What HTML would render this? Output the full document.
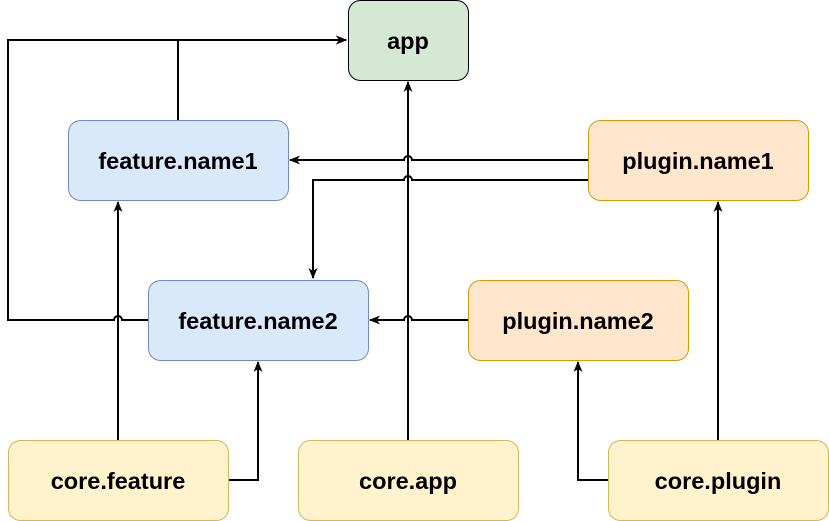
<!DOCTYPE html>
<html><head><meta charset="utf-8"><style>body{margin:0;background:#fff}svg{display:block}text{font-family:"Liberation Sans",sans-serif;font-weight:bold;font-size:23.5px;text-anchor:middle;dominant-baseline:central}</style></head><body>
<svg width="829" height="521" viewBox="0 0 829 521">
<defs><marker id="a" markerWidth="12" markerHeight="12" refX="10" refY="6" orient="auto" markerUnits="userSpaceOnUse"><path d="M0,1.5 L11,6 L0,10.5 L3,6 Z" fill="#000"/></marker></defs>
<g fill="none" stroke="#000" stroke-width="2">
<path d="M178,120 V40 H346" marker-end="url(#a)"/>
<path d="M148,320 H122 a4,4 0 0 0 -8,0 H8 V40 H346" marker-end="url(#a)"/>
<path d="M588,160 H412 a4,4 0 0 0 -8,0 H290" marker-end="url(#a)"/>
<path d="M588,180 H412 a4,4 0 0 0 -8,0 H313 V278" marker-end="url(#a)"/>
<path d="M468,320 H412 a4,4 0 0 0 -8,0 H370" marker-end="url(#a)"/>
<path d="M118,440 V202" marker-end="url(#a)"/>
<path d="M228,480 H258 V362" marker-end="url(#a)"/>
<path d="M408,440 V82" marker-end="url(#a)"/>
<path d="M608,480 H578 V362" marker-end="url(#a)"/>
<path d="M718,440 V202" marker-end="url(#a)"/>
</g>
<rect x="348.5" y="0.5" width="120" height="80" rx="12" fill="#d5e8d4" stroke="#000"/>
<text x="408" y="41">app</text>
<rect x="68.5" y="120.5" width="220" height="80" rx="12" fill="#dae8fc" stroke="#6c8ebf"/>
<text x="178" y="161">feature.name1</text>
<rect x="588.5" y="120.5" width="220" height="80" rx="12" fill="#ffe6cc" stroke="#d79b00"/>
<text x="698" y="161">plugin.name1</text>
<rect x="148.5" y="280.5" width="220" height="80" rx="12" fill="#dae8fc" stroke="#6c8ebf"/>
<text x="258" y="321">feature.name2</text>
<rect x="468.5" y="280.5" width="220" height="80" rx="12" fill="#ffe6cc" stroke="#d79b00"/>
<text x="578" y="321">plugin.name2</text>
<rect x="8.5" y="440.5" width="220" height="80" rx="12" fill="#fff2cc" stroke="#d6b656"/>
<text x="118" y="481">core.feature</text>
<rect x="298.5" y="440.5" width="220" height="80" rx="12" fill="#fff2cc" stroke="#d6b656"/>
<text x="408" y="481">core.app</text>
<rect x="608.5" y="440.5" width="220" height="80" rx="12" fill="#fff2cc" stroke="#d6b656"/>
<text x="718" y="481">core.plugin</text>
</svg>
</body></html>
